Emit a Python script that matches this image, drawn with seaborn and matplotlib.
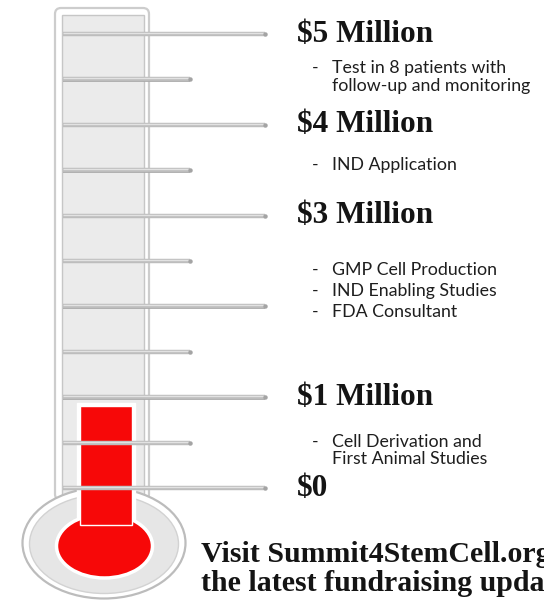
"""Fundraising thermometer for the Summit4StemCell campaign."""

import matplotlib
matplotlib.use("Agg")
import matplotlib.pyplot as plt
import seaborn as sns
from matplotlib.patches import Ellipse, FancyBboxPatch, Rectangle

# data, in millions of dollars
scale_marks = [0, 0.5, 1, 1.5, 2, 2.5, 3, 3.5, 4, 4.5, 5]
raised = 0.9
milestone_values = [5, 4, 3, 1, 0]
milestone_labels = ["$5 Million", "$4 Million", "$3 Million", "$1 Million", "$0"]
milestone_items = [
    ["Test in 8 patients with\nfollow-up and monitoring"],
    ["IND Application"],
    ["GMP Cell Production", "IND Enabling Studies", "FDA Consultant"],
    ["Cell Derivation and\nFirst Animal Studies"],
    [],
]
footer_lines = ["Visit Summit4StemCell.org for", "the latest fundraising updates"]

# layout: pixel rows of the picture
W, H = 544, 601
ZERO_PX, TOP_PX = 488, 34
PX = 5 / (ZERO_PX - TOP_PX)  # millions per pixel row
item_rows = [[68], [165], [270, 291, 312], [442], []]
wrap_step = 17.5
footer_rows = [562, 591]


def ypx(row):
    return (ZERO_PX - row) * PX


sns.set_theme(style="white")
fig = plt.figure(figsize=(W / 100, H / 100), dpi=100)
ax = fig.add_axes([0, 0, 1, 1])
ax.set_xlim(0, W)
ax.set_ylim(ypx(H), ypx(0))
ax.set_axis_off()

# glass tube
ax.add_patch(FancyBboxPatch((55, ypx(500)), 94, ypx(8) - ypx(500),
                            boxstyle="round,pad=0,rounding_size=6", mutation_aspect=PX,
                            facecolor="white", edgecolor="#cdcdcd", lw=1.6, zorder=1))
ax.add_patch(Rectangle((62, ypx(498)), 82, ypx(15) - ypx(498),
                       facecolor="#ebebeb", edgecolor="#c6c6c6", lw=1.0, zorder=2))

# bulb
ax.add_patch(Ellipse((104, ypx(543)), 163, 111 * PX, facecolor="white",
                     edgecolor="#bcbcbc", lw=1.6, zorder=3))
ax.add_patch(Ellipse((104, ypx(544)), 149, 99 * PX, facecolor="#e6e6e6",
                     edgecolor="#d2d2d2", lw=1.0, zorder=3))

# mercury
stem_base = ypx(525)
ax.bar(106, raised - stem_base + 3 * PX, bottom=stem_base, width=58,
       color="white", zorder=4)
ax.add_patch(Ellipse((104.5, ypx(546)), 96, 64 * PX, facecolor="#f70808",
                     edgecolor="white", lw=2.5, zorder=5))
ax.bar(106, raised - stem_base, bottom=stem_base, width=52,
       color="#f70808", zorder=6)

# scale rods
for v in scale_marks:
    x_end = 265 if float(v).is_integer() else 190
    ax.hlines(v - 1.3 * PX, 63, x_end, color="#a2a2a2", lw=1.2, zorder=7)
    ax.hlines(v, 63, x_end, color="#bdbdbd", lw=3.2, zorder=7)
    ax.hlines(v + 1.0 * PX, 63, x_end, color="#e2e2e2", lw=1.0, zorder=7)
    ax.plot([x_end], [v], marker="o", ms=2.2, color="#a4a4a4", zorder=8)

# milestone text
serif = dict(family="Liberation Serif", weight="bold", color="#141414")
sans = dict(family="Lato", color="#1e1e1e", fontsize=12.8)
for value, label, items, rows in zip(milestone_values, milestone_labels, milestone_items, item_rows):
    ax.text(297, value, label, fontsize=22.5, va="center", ha="left", **serif)
    for item, row in zip(items, rows):
        ax.text(312, ypx(row), "-", va="center", ha="left", **sans)
        for k, line in enumerate(item.split("\n")):
            ax.text(332, ypx(row + k * wrap_step), line, va="center", ha="left", **sans)

for line, row in zip(footer_lines, footer_rows):
    ax.text(201, ypx(row), line, fontsize=21.5, va="baseline", ha="left", **serif)

fig.savefig("out.png", dpi=100)
